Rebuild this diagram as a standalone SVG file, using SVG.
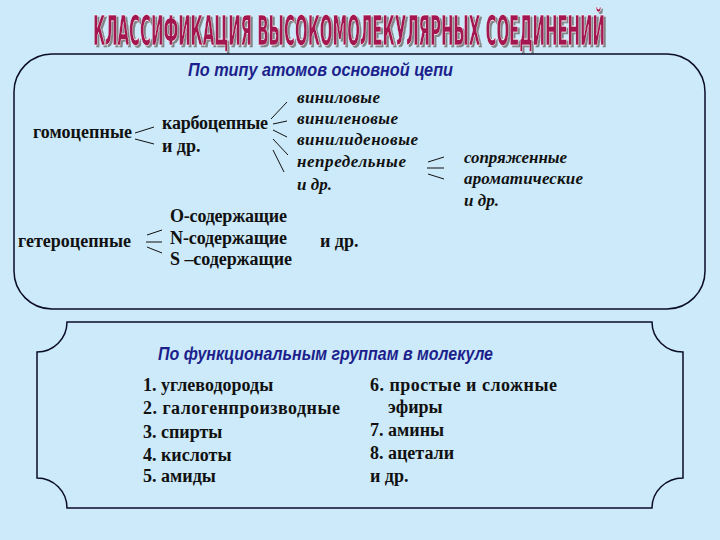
<svg xmlns="http://www.w3.org/2000/svg" width="720" height="540" viewBox="0 0 720 540">
<style>
.panel{fill:none;stroke:#0b0b2a;stroke-width:1.5}
.ln{stroke:#111;stroke-width:1;fill:none}
.t{font-family:"Liberation Serif","Times New Roman",serif;font-weight:bold;font-size:18px;fill:#111}
.i{font-family:"Liberation Serif","Times New Roman",serif;font-weight:bold;font-style:italic;font-size:17px;fill:#111}
.l{font-family:"Liberation Serif","Times New Roman",serif;font-weight:bold;font-size:18px;fill:#111}
.h{font-family:"Liberation Sans",Arial,sans-serif;font-weight:bold;font-style:italic;font-size:19px;fill:#1c1f8c}
.title{font-family:"DejaVu Sans Condensed","DejaVu Sans",sans-serif;font-weight:bold;font-size:20px;fill:#a3184f}
</style>
<defs>
<filter id="sh" x="-5%" y="-30%" width="110%" height="160%">
<feDropShadow dx="2" dy="2" stdDeviation="0.6" flood-color="#7a7a7a" flood-opacity="0.9"/>
</filter>
</defs>
<rect width="720" height="540" fill="#cceaf9"/>
<g id="title" filter="url(#sh)">
<text class="title" transform="translate(93,45) scale(1,2)" x="0" y="0" stroke="#ffffff" stroke-width="0.3" textLength="512" lengthAdjust="spacingAndGlyphs">КЛАССИФИКАЦИЯ ВЫСОКОМОЛЕКУЛЯРНЫХ СОЕДИНЕНИЙ</text>
</g>
<g id="panel-top">
<path class="panel" d="M52,54 H667 A38,38 0 0 1 705,92 V271 A38,38 0 0 1 667,309 H52 A38,38 0 0 1 14,271 V92 A38,38 0 0 1 52,54 Z"/>
<text class="h" x="188" y="76" textLength="265" lengthAdjust="spacingAndGlyphs">По типу атомов основной цепи</text>
</g>
<g id="panel-bottom">
<path class="panel" d="M67,322 H652 A31,30 0 0 0 683,352 V478 A31,30 0 0 0 652,508 H67 A30,30 0 0 0 37,478 V352 A30,30 0 0 0 67,322 Z"/>
<text class="h" x="158" y="360" textLength="335" lengthAdjust="spacingAndGlyphs">По функциональным группам в молекуле</text>
</g>
<g id="connectors">
<line class="ln" x1="135" y1="133" x2="154" y2="127"/>
<line class="ln" x1="135" y1="139" x2="154" y2="144"/>
<line class="ln" x1="271" y1="119" x2="287" y2="102"/>
<line class="ln" x1="273" y1="124" x2="287" y2="121"/>
<line class="ln" x1="273" y1="130" x2="287" y2="137"/>
<line class="ln" x1="273" y1="139" x2="288" y2="155"/>
<line class="ln" x1="273" y1="150" x2="284" y2="172"/>
<line class="ln" x1="428" y1="162" x2="444" y2="157"/>
<line class="ln" x1="427" y1="168" x2="444" y2="168"/>
<line class="ln" x1="428" y1="174" x2="444" y2="179"/>
<line class="ln" x1="147" y1="235" x2="162" y2="230"/>
<line class="ln" x1="146" y1="242" x2="162" y2="242"/>
<line class="ln" x1="147" y1="247" x2="162" y2="253"/>
</g>
<g id="homochain"><text class="t" x="33" y="138" textLength="99">гомоцепные</text></g>
<g id="carbochain">
<text class="t" x="162" y="129" textLength="106">карбоцепные</text>
<text class="t" x="162" y="152">и др.</text>
</g>
<g id="carbo-types">
<text class="i" x="297" y="103" textLength="83">виниловые</text>
<text class="i" x="297" y="124" textLength="101">виниленовые</text>
<text class="i" x="297" y="145" textLength="121">винилиденовые</text>
<text class="i" x="297" y="167" textLength="109">непредельные</text>
<text class="i" x="297" y="190">и др.</text>
</g>
<g id="unsaturated">
<text class="i" x="464" y="163" textLength="103">сопряженные</text>
<text class="i" x="464" y="184" textLength="119">ароматические</text>
<text class="i" x="464" y="206">и др.</text>
</g>
<g id="heterochain"><text class="t" x="18" y="247" textLength="113">гетероцепные</text></g>
<g id="hetero-types">
<text class="t" x="170" y="222" textLength="117">O-содержащие</text>
<text class="t" x="170" y="244" textLength="117">N-содержащие</text>
<text class="t" x="170" y="265" textLength="122">S –содержащие</text>
<text class="t" x="320" y="247">и др.</text>
</g>
<g id="groups-left">
<text class="l" x="143" y="391">1. углеводороды</text>
<text class="l" x="143" y="414" textLength="197">2. галогенпроизводные</text>
<text class="l" x="143" y="438">3. спирты</text>
<text class="l" x="143" y="461">4. кислоты</text>
<text class="l" x="143" y="482">5. амиды</text>
</g>
<g id="groups-right">
<text class="l" x="370" y="391" textLength="187">6. простые и сложные</text>
<text class="l" x="388" y="413">эфиры</text>
<text class="l" x="370" y="436">7. амины</text>
<text class="l" x="370" y="459">8. ацетали</text>
<text class="l" x="370" y="482">и др.</text>
</g>
</svg>
